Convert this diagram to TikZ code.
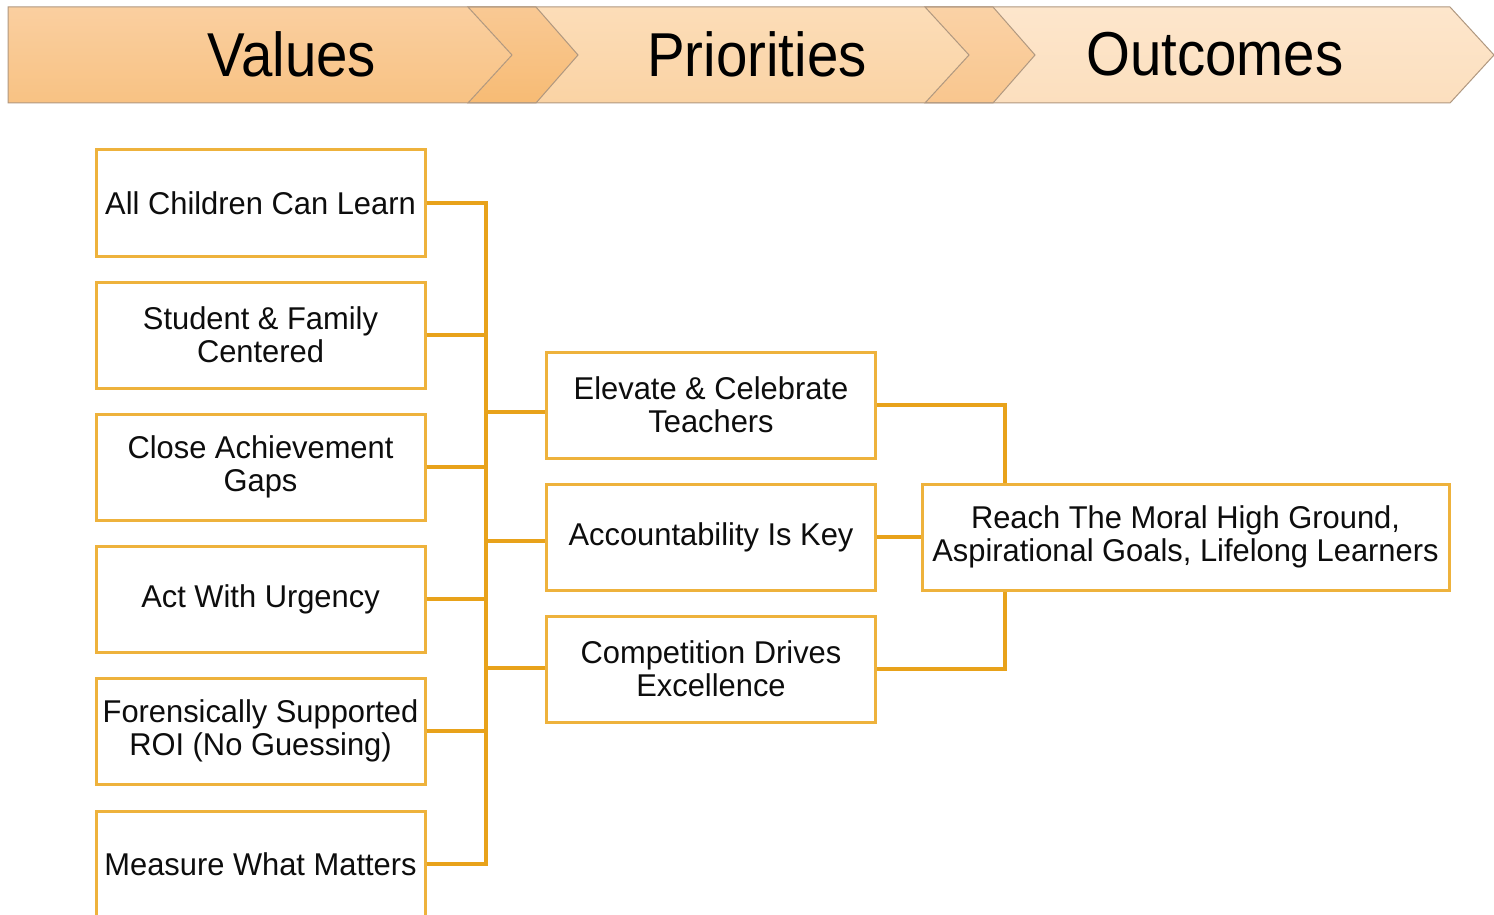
\documentclass[tikz,border=0pt]{standalone}
\usepackage{fontspec}
\setmainfont{Liberation Sans}[FakeStretch=0.98]
\newfontfamily\hdrfont{Liberation Sans}[FakeStretch=0.91]
\definecolor{boxc}{HTML}{EEB23C}
\definecolor{connc}{HTML}{E8A21A}
\definecolor{chevline}{HTML}{B09880}
\definecolor{vtop}{HTML}{FACFA0}
\definecolor{vbot}{HTML}{F8C283}
\definecolor{ptop}{HTML}{FCDDB8}
\definecolor{pbot}{HTML}{FAD3A4}
\definecolor{otop}{HTML}{FDE6CC}
\definecolor{obot}{HTML}{FCDFBE}
\definecolor{o1top}{HTML}{F9C994}
\definecolor{o1bot}{HTML}{F7BB74}
\definecolor{o2top}{HTML}{FAD2A6}
\definecolor{o2bot}{HTML}{F9C68E}
\tikzset{
  vbox/.style={draw=boxc, line width=3pt, fill=white, minimum width=329pt,
    minimum height=106pt, inner sep=0pt, align=center,
    font=\fontsize{31.5}{33}\selectfont, text=black!95},
  obox/.style={vbox, minimum width=527pt},
  conn/.style={draw=connc, line width=3.2pt},
  hdr/.style={font=\hdrfont\fontsize{62}{70}\selectfont, text=black, inner sep=0pt},
  chevedge/.style={draw=chevline, line width=1pt}
}
\begin{document}
\begin{tikzpicture}[x=1pt,y=-1pt]
\useasboundingbox (0,0) rectangle (1494,915);
\fill[white] (0,0) rectangle (1494,915);
% header chevrons
\shade[top color=vtop, bottom color=vbot] (8,7) -- (536,7) -- (578,55) -- (536,103) -- (8,103) -- cycle;
\shade[top color=ptop, bottom color=pbot] (468,7) -- (993,7) -- (1035,55) -- (993,103) -- (468,103) -- (512,55) -- cycle;
\shade[top color=otop, bottom color=obot] (925,7) -- (1450,7) -- (1494,55) -- (1450,103) -- (925,103) -- (969,55) -- cycle;
\shade[top color=o1top, bottom color=o1bot] (468,7) -- (536,7) -- (578,55) -- (536,103) -- (468,103) -- (512,55) -- cycle;
\shade[top color=o2top, bottom color=o2bot] (925,7) -- (993,7) -- (1035,55) -- (993,103) -- (925,103) -- (969,55) -- cycle;
\draw[chevedge] (8,7) -- (536,7) -- (578,55) -- (536,103) -- (8,103) -- cycle;
\draw[chevedge] (468,7) -- (993,7) -- (1035,55) -- (993,103) -- (468,103) -- (512,55) -- cycle;
\draw[chevedge] (925,7) -- (1450,7) -- (1494,55) -- (1450,103) -- (925,103) -- (969,55) -- cycle;
\node[hdr] (hv) at (292,54) {Values};
\node[hdr] (hp) at (757,54) {Priorities};
\node[hdr] (ho) at (1215,54) {Outcomes};
% value boxes
\node[vbox] (L1) at (260.5,203) {All Children Can Learn};
\node[vbox] (L2) at (260.5,335) {Student \& Family\\Centered};
\node[vbox] (L3) at (260.5,467) {Close Achievement\\Gaps};
\node[vbox] (L4) at (260.5,599) {Act With Urgency};
\node[vbox] (L5) at (260.5,731) {Forensically Supported\\ROI (No Guessing)};
\node[vbox] (L6) at (260.5,864) {Measure What Matters};
% priority boxes
\node[vbox] (M1) at (711,405) {Elevate \& Celebrate\\Teachers};
\node[vbox] (M2) at (711,537) {Accountability Is Key};
\node[vbox] (M3) at (711,669) {Competition Drives\\Excellence};
% outcome box
\node[obox] (R) at (1185.5,537) {Reach The Moral High Ground,\\Aspirational Goals, Lifelong Learners};
% connectors values -> priorities
\coordinate (busx) at (486,0);
\coordinate (jr) at (1005,0);
\foreach \i in {1,...,6}{
  \draw[conn] (L\i.east) -- (L\i.east -| busx) |- ([yshift=-7pt]M1.west);
  \draw[conn] (L\i.east) -- (L\i.east -| busx) |- ([yshift=-4pt]M2.west);
  \draw[conn] (L\i.east) -- (L\i.east -| busx) |- ([yshift=1pt]M3.west);
}
% connectors priorities -> outcome
\draw[conn] (M1.east) -| (R.north -| jr);
\draw[conn] (M2.east) -- (R.west);
\draw[conn] (M3.east) -| (R.south -| jr);
\end{tikzpicture}
\end{document}
